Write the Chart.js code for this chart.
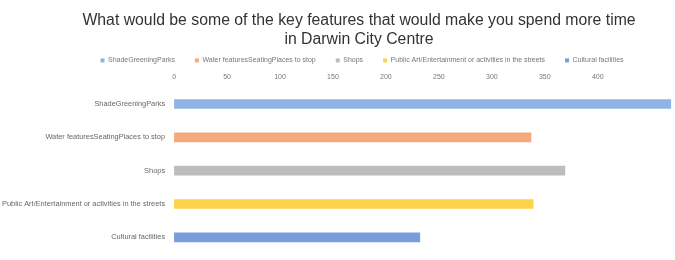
<!DOCTYPE html>
<html><head><meta charset="utf-8">
<script src="https://cdn.jsdelivr.net/npm/chart.js@4"></script>
<style>html,body{margin:0;padding:0;background:#fff}#wrap{width:675px;height:260px}</style>
</head><body><div id="wrap"><canvas id="c" width="675" height="260"></canvas></div>
<script>
const categories = ["ShadeGreeningParks","Water featuresSeatingPlaces to stop","Shops","Public Art/Entertainment or activities in the streets","Cultural facilities"];
const seriesNames = ["ShadeGreeningParks","Water featuresSeatingPlaces to stop","Shops","Public Art/Entertainment or activities in the streets","Cultural facilities"];
const values = [469, 337, 369, 339, 232];
const colors = ["#8EB4E3","#F4A97A","#BDBDBD","#FFD24D","#7C9BDB"];
const datasets = seriesNames.map((n,i)=>({
  label:n,
  data: categories.map((c,j)=> j===i ? values[i] : null),
  backgroundColor: colors[i],
  borderWidth: 0,
  barThickness: 9,
  grouped: false
}));
const shiftPlugin = {
  id:'shift',
  beforeInit(chart){
    const lg = chart.legend;
    const f = lg.fit;
    lg.fit = function(){ f.call(this); this.height -= 7; };
  },
  afterLayout(chart){
    chart.titleBlock.left += 21; chart.titleBlock.right += 21;
    chart.legend.left += 24; chart.legend.right += 24;
  }
};
new Chart(document.getElementById('c'),{
  type:'bar',
  data:{labels:categories,datasets},
  plugins:[shiftPlugin],
  options:{
    indexAxis:'y', responsive:false, animation:false,
    layout:{padding:{left:2,right:1,top:0,bottom:6}},
    plugins:{
      title:{display:true,text:["What would be some of the key features that would make you spend more time","in Darwin City Centre"],
        font:{family:"Liberation Sans",size:15.8,weight:'normal',lineHeight:1.2},color:"#333",padding:{top:11,bottom:-12}},
      legend:{position:'top',labels:{font:{family:"Liberation Sans",size:7},color:"#777",boxWidth:4,boxHeight:4,padding:20}},
      tooltip:{enabled:false}
    },
    scales:{
      x:{position:'top',min:0,max:472,grid:{display:false,drawTicks:false},border:{display:false},
        afterFit(s){ s.paddingLeft = 0; s.paddingRight = 0; },
        ticks:{stepSize:50,font:{family:"Liberation Sans",size:7},color:"#777",padding:6,callback:v=> v<=400? v : ''}},
      y:{grid:{display:false,drawTicks:false},border:{display:false},
        afterFit(s){ s.paddingTop = 0; s.paddingBottom = 0; s.width -= 9; },
        ticks:{font:{family:"Liberation Sans",size:7.4},color:"#666",padding:9}}
    }
  }
});
</script></body></html>
